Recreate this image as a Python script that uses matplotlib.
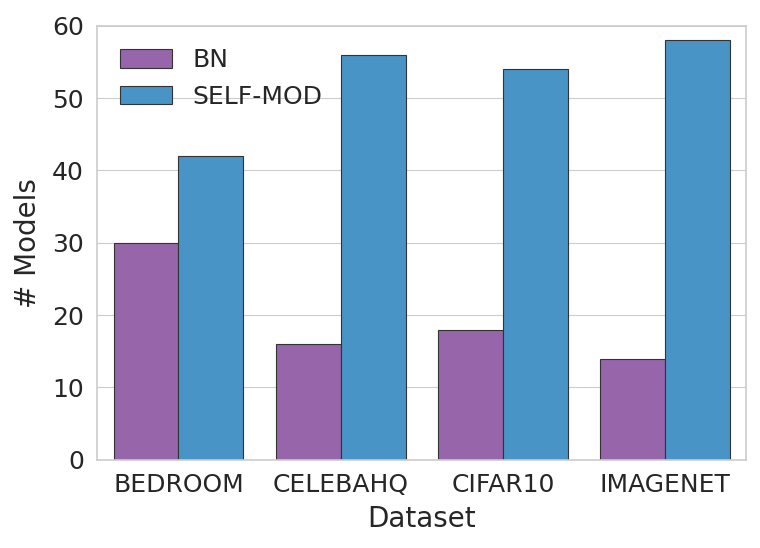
import matplotlib
matplotlib.use("Agg")
import matplotlib.pyplot as plt
import seaborn as sns
import pandas as pd

datasets = ["BEDROOM", "CELEBAHQ", "CIFAR10", "IMAGENET"]
bn_counts = [30, 16, 18, 14]
selfmod_counts = [42, 56, 54, 58]

sns.set_style("whitegrid")
plt.rcParams['font.family'] = ['DejaVu Sans']

df = pd.DataFrame({
    "Dataset": datasets * 2,
    "# Models": bn_counts + selfmod_counts,
    "method": ["BN"] * len(datasets) + ["SELF-MOD"] * len(datasets),
})

fig, ax = plt.subplots(figsize=(7.6, 5.48), dpi=100)
sns.barplot(data=df, x="Dataset", y="# Models", hue="method",
            palette=["#9b59b6", "#3498db"], edgecolor="#333333",
            linewidth=0.8, ax=ax)

ax.set_ylim(0, 60)
ax.set_xlabel("Dataset", fontsize=20, labelpad=6)
ax.set_ylabel("# Models", fontsize=20, labelpad=7)
ax.tick_params(labelsize=18, pad=6)
for s in ax.spines.values():
    s.set_color("#cccccc")
    s.set_linewidth(1.2)
ax.legend(loc="upper left", frameon=False, fontsize=18, title=None,
          handlelength=2.1, handleheight=0.75, labelspacing=0.5,
          borderaxespad=0.5)

plt.subplots_adjust(left=0.128, right=0.982, top=0.953, bottom=0.161)
plt.savefig("out.png")
